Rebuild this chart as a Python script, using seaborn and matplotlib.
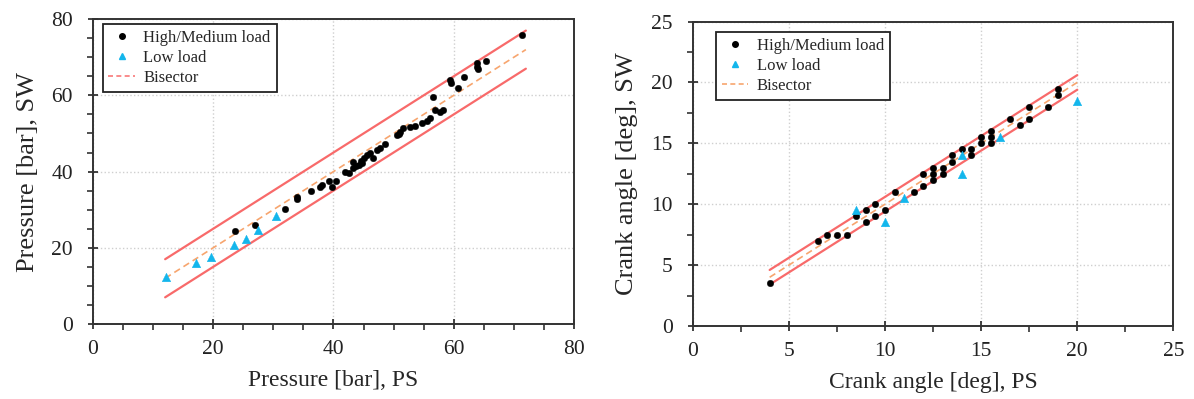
import pandas as pd
import numpy as np
import matplotlib
matplotlib.use("Agg")
import matplotlib.pyplot as plt
import seaborn as sns
from matplotlib.lines import Line2D
from matplotlib.ticker import MultipleLocator

# 数据：左图 压力 (PS vs SW)
p_high_ps = [23.6, 26.9, 32.0, 33.9, 33.9, 36.2, 37.7, 38.1, 39.3, 39.8, 40.4,
             41.9, 42.5, 43.2, 43.3, 44.2, 44.7, 45.0, 45.6, 46.1, 46.6, 47.2,
             47.8, 48.6, 50.6, 51.1, 51.6, 52.8, 53.6, 54.7, 55.6, 56.0, 56.5,
             56.9, 57.7, 58.2, 59.4, 59.6, 60.7, 61.7, 63.9, 64.1, 63.9, 65.3,
             71.4, 43.8, 44.5, 50.9]
p_high_sw = [24.5, 26.0, 30.3, 33.3, 32.7, 34.9, 36.0, 36.6, 37.6, 36.0, 37.6,
             39.8, 39.5, 42.4, 40.9, 41.6, 42.2, 43.5, 44.4, 45.0, 43.5, 45.7,
             46.1, 47.2, 49.6, 50.5, 51.4, 51.6, 52.0, 52.7, 53.4, 54.0, 59.7,
             56.2, 55.7, 56.2, 64.0, 63.3, 61.9, 64.9, 67.5, 66.8, 68.4, 69.1,
             75.9, 41.5, 42.8, 49.9]
p_low_ps = [12.1, 17.1, 19.7, 23.5, 25.4, 27.4, 30.4]
p_low_sw = [12.4, 15.9, 17.6, 20.6, 22.4, 24.7, 28.3]
p_line = [12, 72]
p_band = 5

# 数据：右图 曲轴转角 (PS vs SW)
c_high_ps = [4.0, 6.5, 7.0, 7.5, 8.0, 8.5, 9.0, 9.0, 9.5, 9.5, 10.0, 10.5,
             11.5, 12.0, 12.0, 12.5, 12.5, 12.5, 13.0, 13.0, 13.5, 13.5, 14.0,
             14.5, 14.5, 15.0, 15.0, 15.5, 15.5, 15.5, 16.5, 17.0, 17.5, 17.5,
             18.5, 19.0, 19.0]
c_high_sw = [3.5, 7.0, 7.5, 7.5, 7.5, 9.0, 9.5, 8.5, 10.0, 9.0, 9.5, 11.0,
             11.0, 12.5, 11.5, 13.0, 12.5, 12.0, 13.0, 12.5, 14.0, 13.5, 14.5,
             14.5, 14.0, 15.5, 15.0, 16.0, 15.5, 15.0, 17.0, 16.5, 18.0, 17.0,
             18.0, 19.5, 19.0]
c_low_ps = [8.5, 10.0, 11.0, 14.0, 14.0, 16.0, 20.0]
c_low_sw = [9.5, 8.5, 10.5, 14.0, 12.5, 15.5, 18.5]
c_line = [4, 20]
c_band = 0.6

sns.set_theme(style="ticks")
plt.rcParams['font.family'] = ['Liberation Serif', 'DejaVu Serif']

red = '#f86a6a'
orange = '#f7a56e'
blue = '#13b6ec'


def panel(ax, hx, hy, lx, ly, line, band, lim, major, minor, xlabel, ylabel,
          bis_leg_color, legend_pos):
    sns.lineplot(x=line, y=[v + band for v in line], ax=ax, color=red, lw=1.6)
    sns.lineplot(x=line, y=[v - band for v in line], ax=ax, color=red, lw=1.6)
    sns.lineplot(x=line, y=line, ax=ax, color=orange, lw=1.2, linestyle=(0, (4, 2.5)))
    sns.scatterplot(x=hx, y=hy, ax=ax, color='black', marker='o', s=22,
                    edgecolor='black', linewidth=0.3, zorder=4)
    sns.scatterplot(x=lx, y=ly, ax=ax, color=blue, marker='^', s=38,
                    edgecolor=blue, linewidth=0.3, zorder=4)
    ax.set_xlim(0, lim)
    ax.set_ylim(0, lim)
    ax.xaxis.set_major_locator(MultipleLocator(major))
    ax.yaxis.set_major_locator(MultipleLocator(major))
    ax.xaxis.set_minor_locator(MultipleLocator(minor))
    ax.yaxis.set_minor_locator(MultipleLocator(minor))
    ax.grid(True, which='major', color='#cfcfcf', linestyle=':', linewidth=1.0)
    ax.tick_params(which='major', direction='inout', length=7, width=1.2,
                   labelsize=15.5, colors='#222222')
    ax.tick_params(which='minor', direction='out', length=4, width=1.1, colors='#222222')
    ax.tick_params(axis='x', pad=8)
    ax.tick_params(axis='y', pad=11)
    for s in ax.spines.values():
        s.set_visible(True)
        s.set_linewidth(1.4)
        s.set_color('#333333')
    ax.set_xlabel(xlabel, fontsize=17, labelpad=8)
    ax.set_ylabel(ylabel, fontsize=19, labelpad=9)
    handles = [
        Line2D([], [], marker='o', color='black', linestyle='none', markersize=4),
        Line2D([], [], marker='^', color=blue, linestyle='none', markersize=5),
        Line2D([], [], color=bis_leg_color, linestyle=(0, (3, 2)), lw=1.2),
    ]
    leg = ax.legend(handles, ['High/Medium load', 'Low load', 'Bisector'],
                    loc='upper left', bbox_to_anchor=legend_pos, borderaxespad=0,
                    fontsize=12, frameon=True, fancybox=False, framealpha=1,
                    handlelength=1.6, handletextpad=0.5, labelspacing=0.25,
                    borderpad=0.35)
    leg.get_frame().set_edgecolor('#222222')
    leg.get_frame().set_linewidth(1.3)


fig = plt.figure(figsize=(11.94, 3.99), dpi=100)
ax1 = fig.add_axes([0.0779, 0.188, 0.4028, 0.764])
ax2 = fig.add_axes([0.5802, 0.183, 0.4025, 0.763])

panel(ax1, p_high_ps, p_high_sw, p_low_ps, p_low_sw, p_line, p_band, 80, 20, 5,
      'Pressure [bar], PS', 'Pressure [bar], SW', '#f87878', (0.02, 0.984))
panel(ax2, c_high_ps, c_high_sw, c_low_ps, c_low_sw, c_line, c_band, 25, 5, 2.5,
      'Crank angle [deg], PS', 'Crank angle [deg], SW', orange, (0.048, 0.966))

fig.savefig('out.png', dpi=100)
